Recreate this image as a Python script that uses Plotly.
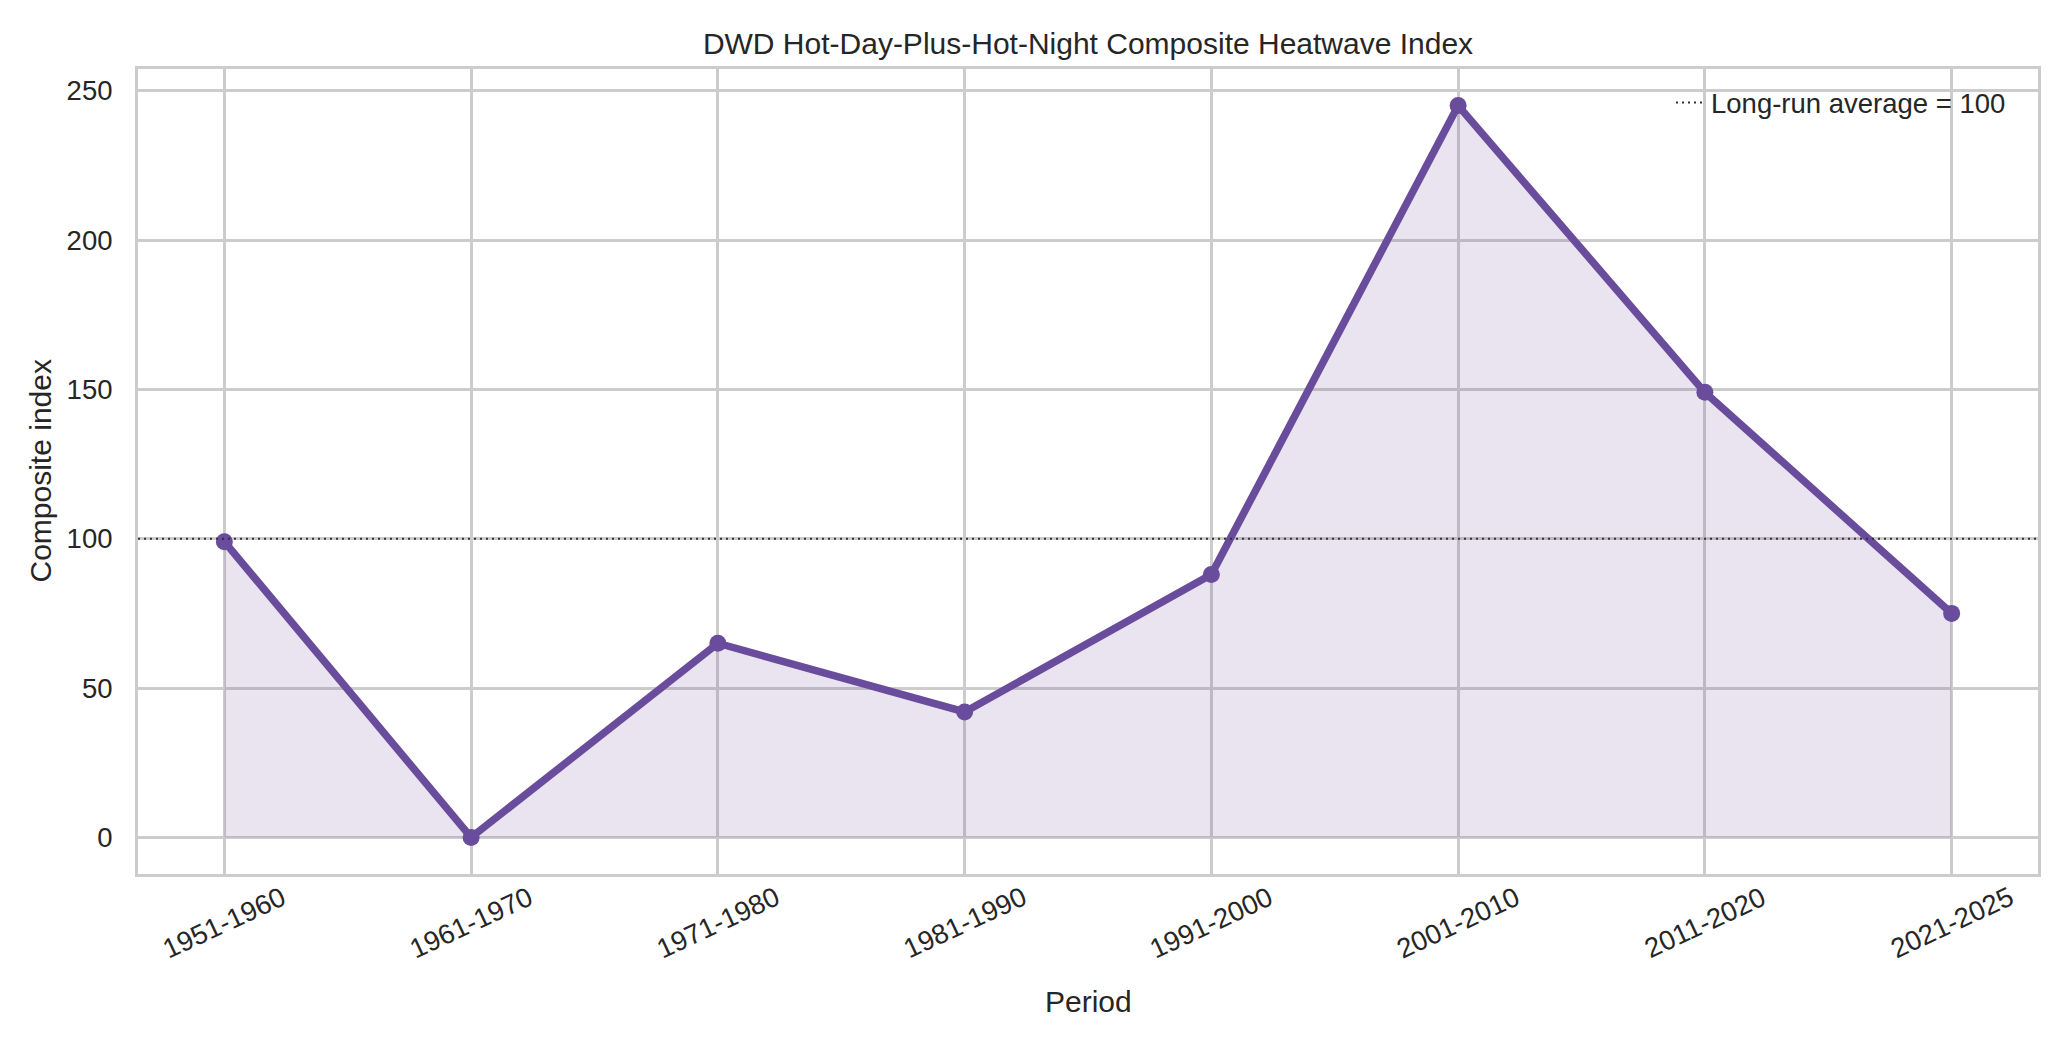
import plotly.graph_objects as go

periods = ["1951-1960", "1961-1970", "1971-1980", "1981-1990",
           "1991-2000", "2001-2010", "2011-2020", "2021-2025"]
index_values = [99, 0, 65, 42, 88, 245, 149, 75]
baseline = 100
baseline_label = "Long-run average = 100"
y_ticks = [0, 50, 100, 150, 200, 250]

title_text = "DWD Hot-Day-Plus-Hot-Night Composite Heatwave Index"
x_title = "Period"
y_title = "Composite index"

W, H = 2070, 1044
ML, MR, MT, MB = 138, 32, 69, 170
PW, PH = W - ML - MR, H - MT - MB

FONT = "Liberation Sans, Arial, sans-serif"
TXT = "#262626"
GRID = "#cccccc"
PURPLE = "#6a4c9c"

fig = go.Figure()
fig.add_trace(go.Scatter(
    x=periods, y=index_values, mode="lines+markers",
    line=dict(color=PURPLE, width=7.5),
    marker=dict(color=PURPLE, size=17),
    fill="tozeroy", fillcolor="rgba(106,76,156,0.15)",
    showlegend=False, cliponaxis=False,
))

fig.add_shape(type="line", xref="paper", x0=0, x1=1, yref="y", y0=baseline, y1=baseline,
              line=dict(color="#333333", width=2, dash="2px,4px"),
              showlegend=True, name=baseline_label, layer="above")

ymin, ymax = 0, max(index_values)
pad = (ymax - ymin) * 0.05
n = len(periods)
xpad = (n - 1) * 0.05

fig.update_layout(
    width=W, height=H,
    margin=dict(l=ML, r=MR, t=MT, b=MB, autoexpand=False),
    paper_bgcolor="white", plot_bgcolor="white",
    font=dict(family=FONT, size=27.5, color=TXT),
    title=dict(text=title_text, x=0.5, xanchor="center", xref="paper",
               y=1 - 43.5 / H, yref="container", yanchor="middle",
               font=dict(size=30, color=TXT, family=FONT)),
    showlegend=True,
    legend=dict(x=1 - 27 / PW, xanchor="right", y=1 - 9 / PH, yanchor="top",
                xref="paper", yref="paper",
                bgcolor="rgba(0,0,0,0)", borderwidth=0,
                font=dict(size=27.5, color=TXT, family=FONT)),
)

fig.update_xaxes(
    type="category", range=[-xpad, n - 1 + xpad],
    showgrid=True, gridcolor=GRID, gridwidth=2.5,
    showline=True, linecolor=GRID, linewidth=3, mirror=True,
    showticklabels=False, ticks="", zeroline=False,
)
fig.update_yaxes(
    range=[ymin - pad, ymax + pad], tickvals=y_ticks,
    showgrid=True, gridcolor=GRID, gridwidth=2.5,
    showline=True, linecolor=GRID, linewidth=3, mirror=True,
    ticks="", ticklabelstandoff=17, zeroline=False,
    tickfont=dict(size=27.5, color=TXT, family=FONT),
)

# rotated category labels, centred on each tick
for p in periods:
    fig.add_annotation(x=p, xref="x", y=(874 - 922) / PH, yref="paper",
                       text=p, showarrow=False, textangle=-25,
                       xanchor="center", yanchor="middle",
                       font=dict(size=27.5, color=TXT, family=FONT))

fig.add_annotation(x=0.5, xref="paper", y=(874 - 1001) / PH, yref="paper",
                   text=x_title, showarrow=False, xanchor="center", yanchor="middle",
                   font=dict(size=30, color=TXT, family=FONT))
fig.add_annotation(x=(40 - ML) / PW, xref="paper", y=0.5, yref="paper",
                   text=y_title, showarrow=False, textangle=-90,
                   xanchor="center", yanchor="middle",
                   font=dict(size=30, color=TXT, family=FONT))

fig.write_html("out.html")
